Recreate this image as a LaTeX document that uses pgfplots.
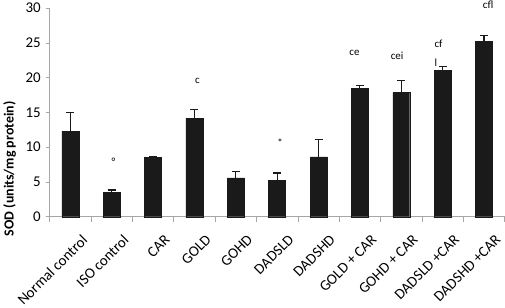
\documentclass[border=0pt]{standalone}
\usepackage{pgfplots}
\pgfplotsset{compat=1.18}
\usepackage{fontspec}
\setmainfont{Carlito}
\definecolor{barc}{HTML}{1A1A1A}
\definecolor{axc}{HTML}{A6A6A6}
\begin{document}
\begin{tikzpicture}
\begin{axis}[
  scale only axis, width=456bp, height=209bp,
  xmin=-0.5, xmax=10.5, ymin=0, ymax=30,
  axis x line*=bottom, axis y line*=left,
  axis line style={draw=axc, -, line width=0.7pt},
  ytick={0,5,...,30},
  xtick={0,...,10},
  xticklabels={Normal control, ISO control, CAR, GOLD, GOHD, DADSLD, DADSHD, GOLD + CAR, GOHD + CAR, DADSLD +CAR, DADSHD +CAR},
  x tick label style={rotate=45, anchor=north east, inner sep=1bp, font=\fontsize{15}{17}\selectfont, xshift=-1bp, yshift=-16bp},
  major x tick style={draw=none},
  minor xtick={-0.5,0.5,...,10.5},
  minor tick length=5bp,
  minor x tick style={draw=axc, line width=0.7pt},
  ytick style={draw=axc, line width=0.7pt},
  tick align=outside, major tick length=3.5bp,
  y tick label style={font=\fontsize{15}{17}\selectfont, xshift=-2bp},
  /pgf/number format/assume math mode=true,
  clip=false,
]
\addplot[ybar, bar width=0.41, fill=barc, draw=barc,
  error bars/.cd, y dir=plus, y explicit,
  error mark options={rotate=90, mark size=4bp, line width=1.2pt, barc},
  error bar style={line width=1.2pt, barc}]
coordinates {
  (0,12.3)  +- (0,2.7)
  (1,3.55)  +- (0,0.3)
  (2,8.55)  +- (0,0.1)
  (3,14.15) +- (0,1.3)
  (4,5.6)   +- (0,0.85)
  (5,5.25)  +- (0,1.05)
  (6,8.6)   +- (0,2.5)
  (7,18.5)  +- (0,0.35)
  (8,17.85) +- (0,1.8)
  (9,21.05) +- (0,0.6)
  (10,25.25) +- (0,0.8)
};
\node[rotate=90, font=\bfseries\fontsize{14}{16}\selectfont] at (axis description cs:-0.088,0.23) {SOD (units/mg protein)};
\begin{scope}[every node/.style={font=\fontsize{11}{13}\selectfont, inner sep=0pt}]
\node at (axis cs:1.04,7.9) {°};
\node at (axis cs:3.07,19.6) {c};
\node at (axis cs:5.07,10.6) {*};
\node at (axis cs:6.87,23.6) {ce};
\node at (axis cs:7.9,23.2) {cei};
\node at (axis cs:8.9,24.9) {cf};
\node at (axis cs:8.84,22.2) {l};
\node at (axis cs:10.1,30.5) {cfl};
\end{scope}
\end{axis}
\end{tikzpicture}
\end{document}
